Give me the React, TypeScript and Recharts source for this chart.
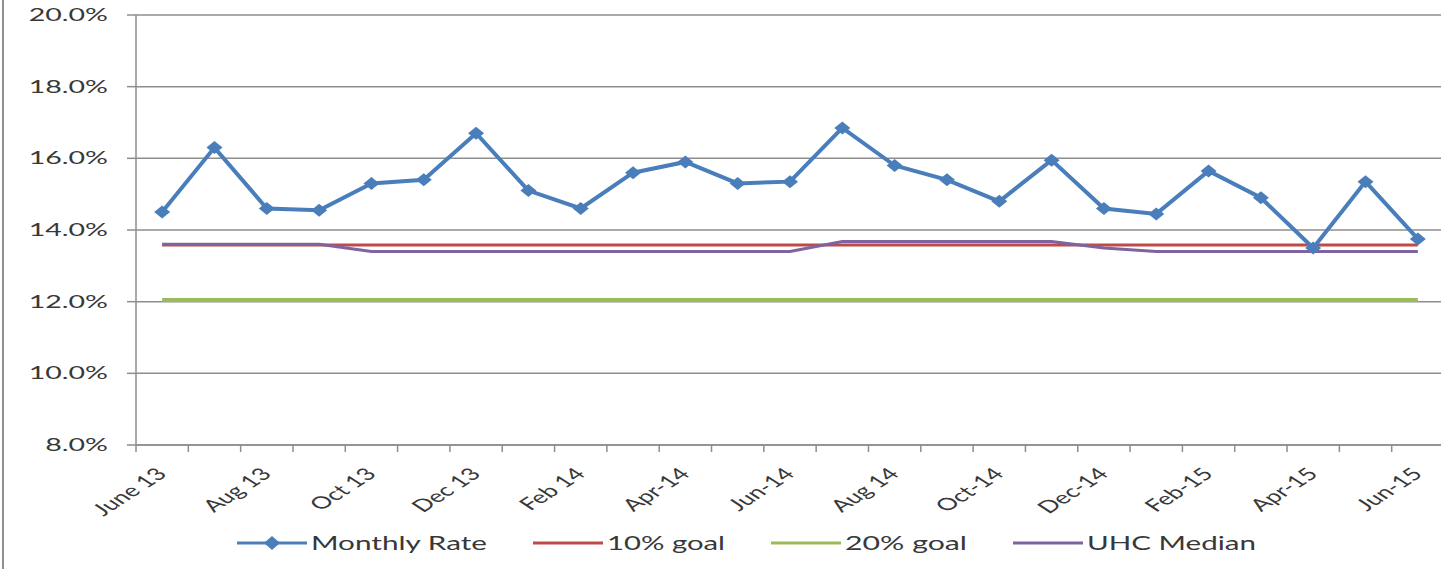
import { LineChart, Line, XAxis, YAxis, CartesianGrid, Legend } from 'recharts'

const months = [
  'June 13', 'Jul 13', 'Aug 13', 'Sep 13', 'Oct 13', 'Nov 13', 'Dec 13',
  'Jan 14', 'Feb 14', 'Mar 14', 'Apr-14', 'May-14', 'Jun-14', 'Jul-14',
  'Aug 14', 'Sep-14', 'Oct-14', 'Nov-14', 'Dec-14', 'Jan-15', 'Feb-15',
  'Mar-15', 'Apr-15', 'May-15', 'Jun-15',
]

const monthlyRate = [
  14.5, 16.3, 14.6, 14.55, 15.3, 15.4, 16.7, 15.1, 14.6, 15.6, 15.9, 15.3,
  15.35, 16.85, 15.8, 15.4, 14.8, 15.95, 14.6, 14.45, 15.65, 14.9, 13.5, 15.35, 13.75,
]

const goal10 = [
  13.58, 13.58, 13.58, 13.58, 13.58, 13.58, 13.58, 13.58, 13.58, 13.58, 13.58, 13.58,
  13.58, 13.58, 13.58, 13.58, 13.58, 13.58, 13.58, 13.58, 13.58, 13.58, 13.58, 13.58, 13.58,
]

const goal20 = [
  12.05, 12.05, 12.05, 12.05, 12.05, 12.05, 12.05, 12.05, 12.05, 12.05, 12.05, 12.05,
  12.05, 12.05, 12.05, 12.05, 12.05, 12.05, 12.05, 12.05, 12.05, 12.05, 12.05, 12.05, 12.05,
]

const uhcMedian = [
  13.6, 13.6, 13.6, 13.6, 13.4, 13.4, 13.4, 13.4, 13.4, 13.4, 13.4, 13.4,
  13.4, 13.68, 13.68, 13.68, 13.68, 13.68, 13.5, 13.4, 13.4, 13.4, 13.4, 13.4, 13.4,
]

const yTicks = [8, 10, 12, 14, 16, 18, 20]

const chartData = months.map((m, i) => ({
  month: m,
  rate: monthlyRate[i],
  goal10: goal10[i],
  goal20: goal20[i],
  median: uhcMedian[i],
}))

const legendItems = [
  { name: 'Monthly Rate', color: '#4A7EBB', marker: true, textW: 176 },
  { name: '10% goal', color: '#BE4B48', marker: false, textW: 118 },
  { name: '20% goal', color: '#9BBB59', marker: false, textW: 122 },
  { name: 'UHC Median', color: '#7E63A0', marker: false, textW: 169 },
]

const FONT = 'Lato, sans-serif'
const GRID = '#8e8e8e'
const TEXT = '#383838'
const W = 1441
const H = 569
const PLOT_LEFT = 136
const PLOT_RIGHT = 1444
const BAND = (PLOT_RIGHT - PLOT_LEFT) / months.length

function formatPct(v: number) {
  return `${v.toFixed(1)}%`
}

function YTick({ x, y, payload }: any) {
  return (
    <g transform={`translate(${x},${y})`}>
      <text transform="scale(1.68,1)" textAnchor="end" dy={6} fill={TEXT} fontSize={17} fontFamily={FONT}>
        {formatPct(payload.value)}
      </text>
    </g>
  )
}

// Excel puts the tick marks between categories and labels every other month
function XTick({ x, y, payload, index }: any) {
  const half = BAND / 2
  const last = index === months.length - 1
  return (
    <g>
      <line x1={x - half} x2={x - half} y1={y} y2={y + 7} stroke={GRID} strokeWidth={1.5} />
      {last && <line x1={x + half} x2={x + half} y1={y} y2={y + 7} stroke={GRID} strokeWidth={1.5} />}
      {index % 2 === 0 && (
        <g transform={`translate(${x + 6},${y + 30})`}>
          <text transform="scale(1.55,1) rotate(-45)" textAnchor="end" fill={TEXT} fontSize={17} fontFamily={FONT}>
            {payload.value}
          </text>
        </g>
      )}
    </g>
  )
}

function Diamond({ cx, cy, index }: any) {
  return (
    <polygon
      key={`d-${index}`}
      points={`${cx},${cy - 6.5} ${cx + 8},${cy} ${cx},${cy + 6.5} ${cx - 8},${cy}`}
      fill="#4A7EBB"
    />
  )
}

function LegendContent() {
  const iconW = 70
  return (
    <div style={{ display: 'flex', justifyContent: 'center', paddingLeft: 48, height: 32, gap: 46 }}>
      {legendItems.map((it) => (
        <svg key={it.name} width={iconW + 4 + it.textW} height={32}>
          <line x1={0} x2={iconW} y1={16} y2={16} stroke={it.color} strokeWidth={3} />
          {it.marker && (
            <polygon points={`${iconW / 2},9 ${iconW / 2 + 8},16 ${iconW / 2},23 ${iconW / 2 - 8},16`} fill={it.color} />
          )}
          <text
            x={iconW + 4}
            y={23}
            textLength={it.textW}
            lengthAdjust="spacingAndGlyphs"
            fontSize={19}
            fontFamily={FONT}
            fill={TEXT}
          >
            {it.name}
          </text>
        </svg>
      ))}
    </div>
  )
}

export default function App() {
  return (
    <div style={{ position: 'absolute', left: 0, top: 0, width: W, height: H, background: '#fff' }}>
      <div style={{ position: 'absolute', left: 2, top: 0, width: 2, height: H, background: '#8f8f8f' }} />
      <LineChart
        width={W}
        height={H}
        data={chartData}
        margin={{ top: 15, right: W - PLOT_RIGHT, left: 0, bottom: 10 }}
      >
        <CartesianGrid vertical={false} stroke={GRID} strokeWidth={1.5} />
        <XAxis
          dataKey="month"
          interval={0}
          height={82}
          padding={{ left: BAND / 2, right: BAND / 2 }}
          tick={<XTick />}
          tickSize={0}
          tickMargin={0}
          tickLine={false}
          axisLine={{ stroke: GRID, strokeWidth: 1.5 }}
        />
        <YAxis
          domain={[8, 20]}
          ticks={yTicks}
          width={PLOT_LEFT}
          tickSize={9}
          tickMargin={19}
          tick={<YTick />}
          tickLine={{ stroke: GRID, strokeWidth: 1.5 }}
          axisLine={{ stroke: GRID, strokeWidth: 1.5 }}
        />
        <Legend verticalAlign="bottom" height={32} content={<LegendContent />} />
        <Line dataKey="goal10" name="10% goal" stroke="#BE4B48" strokeWidth={3} dot={false} isAnimationActive={false} />
        <Line dataKey="goal20" name="20% goal" stroke="#9BBB59" strokeWidth={4} dot={false} isAnimationActive={false} />
        <Line dataKey="median" name="UHC Median" stroke="#7E63A0" strokeWidth={3} dot={false} isAnimationActive={false} />
        <Line
          dataKey="rate"
          name="Monthly Rate"
          stroke="#4A7EBB"
          strokeWidth={4}
          dot={<Diamond />}
          activeDot={false}
          isAnimationActive={false}
        />
      </LineChart>
    </div>
  )
}
